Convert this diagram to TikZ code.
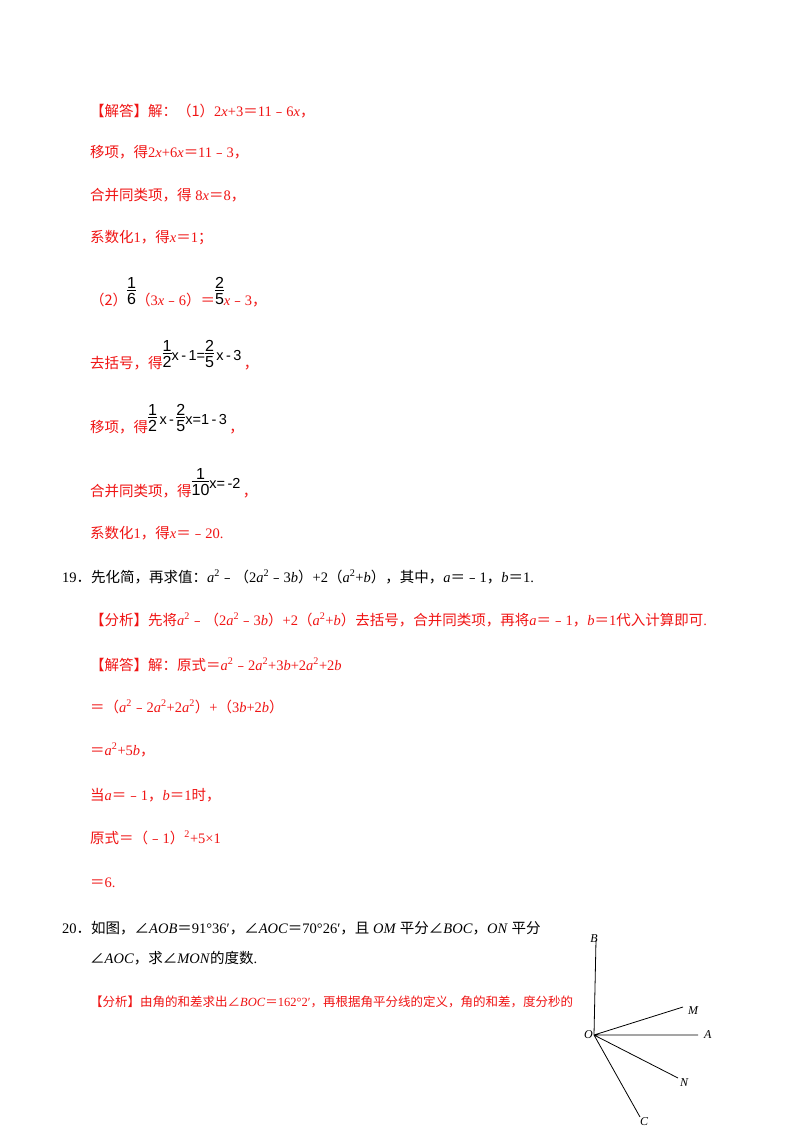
\documentclass[tikz,border=0pt]{standalone}
\usepackage{fontspec}
\setmainfont{Liberation Serif}
\setsansfont{Liberation Sans}
\newfontfamily\cjk{Noto Sans CJK SC}
\definecolor{rd}{RGB}{240,20,20}
\newcommand{\fr}[2]{\ensuremath{\vcenter{\hbox{\sffamily\fontsize{16}{16}\selectfont\begin{tabular}{@{}c@{}}#1\\[-3pt]\hline\rule{0pt}{14pt}#2\end{tabular}}}}}
\newcommand{\vv}[1]{\textit{#1}}
\newcommand{\EQ}{{\cjk ＝}}
\newcommand{\MI}{{\cjk ﹣}}
\newcommand{\ANG}{{\cjk ∠}}
\begin{document}
\begin{tikzpicture}[x=1pt,y=-1pt,
  ln/.style={anchor=base west,inner sep=0,font=\fontsize{14.5}{14.5}\selectfont},
  r/.style={ln,text=rd},
  lab/.style={font=\itshape\fontsize{12}{12}\selectfont,inner sep=0}]
\useasboundingbox[fill=white] (0,0) rectangle (800,1132);
\node[r] (l1) at (90,116) {{\cjk【解答】解：（1）}2\vv{x}+3\EQ11\MI6\vv{x}{\cjk，}};
\node[r] (l2) at (90,157) {{\cjk 移项，得}2\vv{x}+6\vv{x}\EQ11\MI3{\cjk，}};
\node[r] (l3) at (90,200) {{\cjk 合并同类项，得} 8\vv{x}\EQ8{\cjk，}};
\node[r] (l4) at (90,242) {{\cjk 系数化}1{\cjk，得}\vv{x}\EQ1{\cjk；}};
\node[r] (l5) at (90,305) {{\cjk（2）}\raisebox{8pt}{\color{black}\fr{1}{6}}{\cjk（}3\vv{x}\MI6{\cjk）}\EQ\raisebox{8pt}{\color{black}\fr{2}{5}}\vv{x}\MI3{\cjk，}};
\node[r] (l6) at (90,368) {{\cjk 去括号，得}\raisebox{8pt}{\sffamily\color{black}\fr{1}{2}x\,-\,1=\fr{2}{5}\,x\,-\,3}\,{\cjk，}};
\node[r] (l7) at (90,432) {{\cjk 移项，得}\raisebox{8pt}{\sffamily\color{black}\fr{1}{2}\,x\,-\,\fr{2}{5}x=1\,-\,3}\,{\cjk，}};
\node[r] (l8) at (90,496) {{\cjk 合并同类项，得}\raisebox{8pt}{\sffamily\color{black}\fr{1}{10}x=\,-2}\,{\cjk，}};
\node[r] (l9) at (90,538) {{\cjk 系数化}1{\cjk，得}\vv{x}\EQ\MI20.};
\node[ln] (q19) at (62,582) {19{\cjk．先化简，再求值：}\vv{a}\textsuperscript{2}\MI{\cjk（}2\vv{a}\textsuperscript{2}\MI3\vv{b}{\cjk）}+2{\cjk（}\vv{a}\textsuperscript{2}+\vv{b}{\cjk），其中，}\vv{a}\EQ\MI1{\cjk，}\vv{b}\EQ1.};
\node[r] (a19) at (90,625) {{\cjk【分析】先将}\vv{a}\textsuperscript{2}\MI{\cjk（}2\vv{a}\textsuperscript{2}\MI3\vv{b}{\cjk）}+2{\cjk（}\vv{a}\textsuperscript{2}+\vv{b}{\cjk）去括号，合并同类项，再将}\vv{a}\EQ\MI1{\cjk，}\vv{b}\EQ1{\cjk 代入计算即可}.};
\node[r] (s1) at (90,670) {{\cjk【解答】解：原式＝}\vv{a}\textsuperscript{2}\MI2\vv{a}\textsuperscript{2}+3\vv{b}+2\vv{a}\textsuperscript{2}+2\vv{b}};
\node[r] (s2) at (90,712) {\EQ{\cjk（}\vv{a}\textsuperscript{2}\MI2\vv{a}\textsuperscript{2}+2\vv{a}\textsuperscript{2}{\cjk）}+{\cjk（}3\vv{b}+2\vv{b}{\cjk）}};
\node[r] (s3) at (90,755) {\EQ\vv{a}\textsuperscript{2}+5\vv{b}{\cjk，}};
\node[r] (s4) at (90,800) {{\cjk 当}\vv{a}\EQ\MI1{\cjk，}\vv{b}\EQ1{\cjk 时，}};
\node[r] (s5) at (90,843) {{\cjk 原式＝（}\MI1{\cjk）}\textsuperscript{2}+5×1};
\node[r] (s6) at (90,887) {\EQ6.};
\node[ln] (q20) at (62,933) {20{\cjk．如图，}\ANG\vv{AOB}\EQ91°36′{\cjk，}\ANG\vv{AOC}\EQ70°26′{\cjk，且} \vv{OM} {\cjk 平分}\ANG\vv{BOC}{\cjk，}\vv{ON} {\cjk 平分}};
\node[ln] (q20b) at (90,963) {\ANG\vv{AOC}{\cjk，求}\ANG\vv{MON}{\cjk 的度数}.};
\node[r,font=\fontsize{12.5}{12.5}\selectfont] (a20) at (90,1006) {{\cjk【分析】由角的和差求出}\ANG\vv{BOC}\EQ162°2′{\cjk，再根据角平分线的定义，角的和差，度分秒的}};
% figure
\coordinate (O) at (594,1035);
\coordinate (B) at (596,940);
\coordinate (M) at (683,1007);
\coordinate (A) at (698,1035);
\coordinate (N) at (678,1078);
\coordinate (C) at (640,1117);
\draw[thick] (O)--(B) (O)--(M) (O)--(A) (O)--(N) (O)--(C);
\node[lab,anchor=east] (lO) at ([xshift=-1pt]O) {O};
\node[lab,anchor=south east] (lB) at ([xshift=2pt,yshift=-3pt]B) {B};
\node[lab,anchor=west] (lM) at ([xshift=5pt,yshift=-4pt]M) {M};
\node[lab,anchor=west] (lA) at ([xshift=6pt]A) {A};
\node[lab,anchor=north west] (lN) at ([xshift=2pt]N) {N};
\node[lab,anchor=north west] (lC) at (C) {C};
\end{tikzpicture}
\end{document}
